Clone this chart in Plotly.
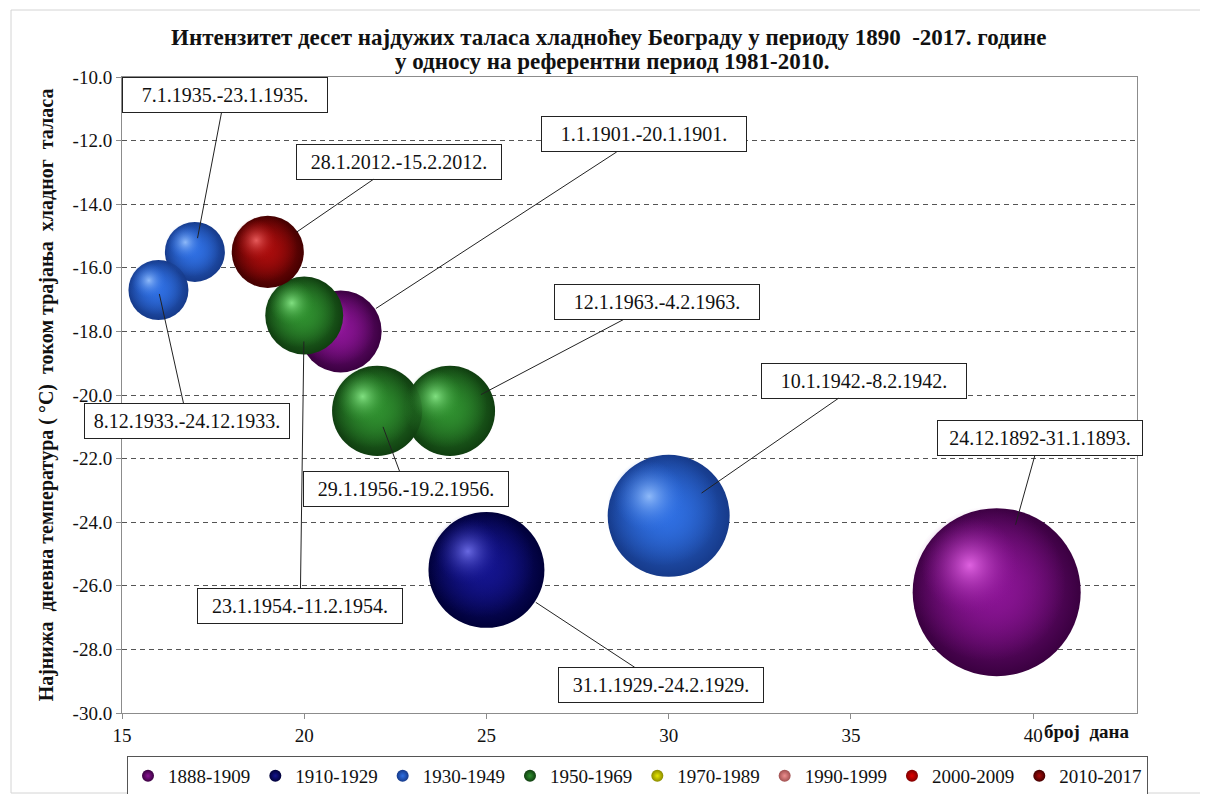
import math
import plotly.graph_objects as go

# ---------------- data ----------------
periods = ["1888-1909", "1910-1929", "1930-1949", "1950-1969",
           "1970-1989", "1990-1999", "2000-2009", "2010-2017"]

wave_labels = ["24.12.1892-31.1.1893.", "1.1.1901.-20.1.1901.",
               "31.1.1929.-24.2.1929.", "10.1.1942.-8.2.1942.",
               "7.1.1935.-23.1.1935.", "8.12.1933.-24.12.1933.",
               "12.1.1963.-4.2.1963.", "29.1.1956.-19.2.1956.",
               "23.1.1954.-11.2.1954.", "28.1.2012.-15.2.2012."]
wave_period = ["1888-1909", "1888-1909", "1910-1929", "1930-1949",
               "1930-1949", "1930-1949", "1950-1969", "1950-1969",
               "1950-1969", "2010-2017"]
days = [39, 21, 25, 30, 17, 16, 24, 22, 20, 19]
tmin = [-26.2, -18.0, -25.5, -23.8, -15.5, -16.7, -20.5, -20.5, -17.5, -15.5]
intensity = [706, 168, 336, 372, 90, 90, 203, 203, 152, 130]

x_ticks = [15, 20, 25, 30, 35, 40]
y_ticks = [-10, -12, -14, -16, -18, -20, -22, -24, -26, -28, -30]
y_ticktext = ["-10.0", "-12.0", "-14.0", "-16.0", "-18.0", "-20.0",
              "-22.0", "-24.0", "-26.0", "-28.0", "-30.0"]

title_line1 = "Интензитет десет најдужих таласа хладноћеу Београду у периоду 1890  -2017. године"
title_line2 = "у односу на референтни период 1981-2010."
y_title = "Најнижа  дневна температура ( °C)  током трајања  хладног  таласа"
x_title = "број  дана"

# ---------------- styles ----------------
# period -> (edge colour, body colour, highlight colour)
palette = {
    "1888-1909": ("#3a0040", "#8a1494", "#f070f0"),
    "1910-1929": ("#000038", "#14148e", "#7878f2"),
    "1930-1949": ("#163a8a", "#2f6fe2", "#a0c8ff"),
    "1950-1969": ("#103e10", "#2f8f2f", "#90f090"),
    "1970-1989": ("#8a8a00", "#e6e600", "#ffffa0"),
    "1990-1999": ("#a05050", "#ee8f8f", "#ffd8d8"),
    "2000-2009": ("#800000", "#e00000", "#ff8a8a"),
    "2010-2017": ("#440000", "#a80c0c", "#f46a6a"),
}

# leader-label placement (pixel offsets of label box from bubble centre, standoff)
label_offsets = [(43, -154, 70), (303, -197, 42), (175, 115, 59), (195, -135, 40),
                 (30, -157, 14), (29, 131, 4), (207, -109, 35), (29, 78, 17),
                 (-4, 290, 26), (131, -90, 35)]

# page body has an 8px default margin: lay the figure out in screen pixels
PAGE = 8
SCREEN_W, SCREEN_H = 1208, 794
FIG_W, FIG_H = SCREEN_W - PAGE, SCREEN_H - PAGE
PLOT_L, PLOT_R, PLOT_T, PLOT_B = 122, 1137, 77, 713   # screen pixels
M_L, M_T = PLOT_L - PAGE, PLOT_T - PAGE
M_R, M_B = FIG_W - (PLOT_R - PAGE), FIG_H - (PLOT_B - PAGE)
X_RANGE = [15, 42.85]
Y_RANGE = [-30, -10]
SIZEREF = 0.05
SERIF = "Liberation Serif"

plot_w = PLOT_R - PLOT_L
plot_h = PLOT_B - PLOT_T
px_x = plot_w / (X_RANGE[1] - X_RANGE[0])
px_y = plot_h / (Y_RANGE[1] - Y_RANGE[0])


def diam(v):
    return math.sqrt(2 * v / SIZEREF)


def rgba(hexcol, a):
    h = hexcol.lstrip("#")
    r, g, b = int(h[0:2], 16), int(h[2:4], 16), int(h[4:6], 16)
    return f"rgba({r},{g},{b},{a})"


def sx(px):   # screen x -> paper
    return (px - PLOT_L) / plot_w


def sy(py):   # screen y -> paper
    return (PLOT_B - py) / plot_h


fig = go.Figure()

# shading layers: (diameter fraction, offset fraction up-left, centre colour key,
#                  centre alpha, edge colour key, edge alpha)
layers = [(0.92, 0.05, "body", 1.0, "body", 0.0),
          (0.58, 0.16, "light", 0.85, "body", 0.0)]

for p in periods:
    edge, body, light = palette[p]
    cols = {"edge": edge, "body": body, "light": light}
    idx = [i for i, wp in enumerate(wave_period) if wp == p]
    if idx:
        xs = [days[i] for i in idx]
        ys = [tmin[i] for i in idx]
        ss = [intensity[i] for i in idx]
    else:
        xs, ys, ss = [None], [None], [90]
    # base sphere (dark rim)
    fig.add_trace(go.Scatter(
        x=xs, y=ys, mode="markers", name=p, showlegend=True,
        marker=dict(size=ss, sizemode="area", sizeref=SIZEREF, color=edge,
                    opacity=1, line=dict(width=0),
                    gradient=dict(type="radial", color=body)),
        hoverinfo="skip"))
    if not idx:
        continue
    for frac, offf, ckey, calpha, ekey, ealpha in layers:
        hx, hy, hs = [], [], []
        for i in idx:
            d = diam(intensity[i])
            off = offf * d
            hx.append(days[i] - off / px_x)
            hy.append(tmin[i] + off / px_y)
            hs.append(intensity[i] * frac * frac)
        fig.add_trace(go.Scatter(
            x=hx, y=hy, mode="markers", showlegend=False,
            marker=dict(size=hs, sizemode="area", sizeref=SIZEREF,
                        color=rgba(cols[ekey], ealpha), opacity=1,
                        line=dict(width=0),
                        gradient=dict(type="radial",
                                      color=rgba(cols[ckey], calpha))),
            hoverinfo="skip"))

# leader-line labels
for i, lab in enumerate(wave_labels):
    ax, ay, so = label_offsets[i]
    fig.add_annotation(
        x=days[i], y=tmin[i], xref="x", yref="y",
        text=lab, showarrow=True, arrowhead=0, arrowwidth=1, arrowcolor="#222",
        ax=ax, ay=ay, standoff=so,
        font=dict(family=SERIF, size=20, color="#111"),
        bgcolor="white", bordercolor="#222", borderwidth=1, borderpad=2,
        width=200, height=30)

# title (two lines placed separately for exact spacing)
fig.add_annotation(x=sx(608), y=sy(37), xref="paper", yref="paper",
                   text=f"<b>{title_line1}</b>", showarrow=False,
                   font=dict(family=SERIF, size=23, color="#111"),
                   xanchor="center", yanchor="middle")
fig.add_annotation(x=sx(612), y=sy(61), xref="paper", yref="paper",
                   text=f"<b>{title_line2}</b>", showarrow=False,
                   font=dict(family=SERIF, size=23, color="#111"),
                   xanchor="center", yanchor="middle")

# x-axis title
fig.add_annotation(x=sx(1086), y=sy(731), xref="paper", yref="paper",
                   text=f"<b>{x_title}</b>", showarrow=False,
                   font=dict(family=SERIF, size=19, color="#111"),
                   xanchor="center", yanchor="middle")

# outer chart border
fig.add_shape(type="rect", xref="paper", yref="paper",
              x0=sx(11), x1=sx(1207), y0=sy(793), y1=sy(10),
              line=dict(color="#d4d4d4", width=1), fillcolor="rgba(0,0,0,0)",
              layer="below")

fig.update_layout(
    width=FIG_W, height=FIG_H,
    margin=dict(l=M_L, r=M_R, t=M_T, b=M_B, autoexpand=False),
    paper_bgcolor="white", plot_bgcolor="white",
    font=dict(family=SERIF, color="#111"),
    xaxis=dict(range=X_RANGE, tickvals=x_ticks, showgrid=False, zeroline=False,
               showline=True, linecolor="#8c8c8c", linewidth=1, mirror=True,
               ticks="outside", ticklen=5, tickcolor="#8c8c8c",
               tickfont=dict(family=SERIF, size=19, color="#111")),
    yaxis=dict(range=Y_RANGE, tickvals=y_ticks, ticktext=y_ticktext,
               showgrid=True, gridcolor="#555", griddash="5px,4px", gridwidth=1,
               zeroline=False, showline=True, linecolor="#8c8c8c", linewidth=1,
               mirror=True, ticks="outside", ticklen=5, tickcolor="#8c8c8c",
               tickfont=dict(family=SERIF, size=19, color="#111"),
               title=dict(text=f"<b>{y_title}</b>",
                          font=dict(family=SERIF, size=20, color="#111"),
                          standoff=13)),
    legend=dict(orientation="h", xref="container", yref="container",
                x=(127 - PAGE) / FIG_W, xanchor="left",
                y=1 - (756 - PAGE) / FIG_H, yanchor="top",
                bordercolor="#555", borderwidth=1, bgcolor="white",
                font=dict(family=SERIF, size=19, color="#111"),
                itemsizing="constant", itemwidth=30,
                traceorder="normal", tracegroupgap=0),
    showlegend=True,
)

fig.write_html("out.html")
